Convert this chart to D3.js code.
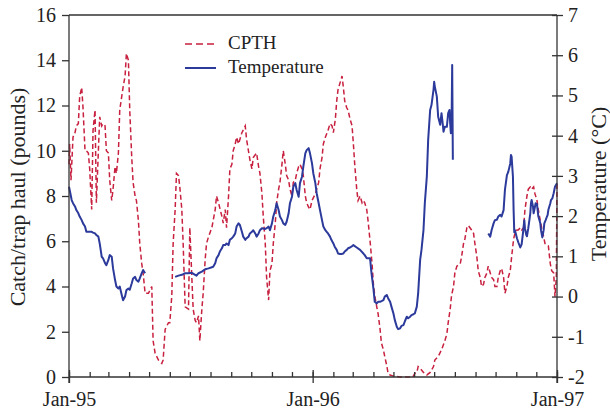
<!DOCTYPE html>
<html>
<head>
<meta charset="utf-8">
<script src="https://cdn.jsdelivr.net/npm/d3@7"></script>
<style>
  body { margin: 0; background: #fff; }
  svg { display: block; }
  svg text { font-family: "Liberation Serif", Tinos, "DejaVu Serif", "Noto Serif", "Times New Roman", serif; }
</style>
</head>
<body>
<svg id="chart" width="610" height="415"></svg>
<script>
// [days since 1 Jan 1995, catch per trap haul (pounds)]
const cpth = [
  [0,9.4],[1,10.3],[3,8.7],[6,10.6],[9,10.8],[11,11.1],[14,11.2],[16,12.4],[19,12.8],[21,11.9],
  [24,10.0],[26,10.0],[29,9.9],[31,9.2],[34,7.4],[36,10.9],[39,11.8],[41,7.7],[44,10.0],[46,11.5],
  [49,11.1],[51,11.2],[54,11.1],[56,10.0],[59,9.9],[61,8.7],[64,7.8],[66,8.3],[69,9.3],[71,9.0],
  [74,9.9],[76,11.8],[79,12.4],[81,12.8],[84,13.3],[86,14.3],[89,14.0],[91,11.8],[94,9.7],[96,8.6],
  [99,8.0],[101,7.8],[104,6.9],[106,5.9],[109,5.0],[111,4.6],[114,3.7],[119,3.7],[124,4.0],[126,1.6],
  [129,1.05],[134,0.75],[139,0.6],[141,0.75],[144,2.1],[149,2.4],[151,2.4],[154,3.6],[156,5.9],[159,7.4],
  [161,9.0],[164,8.9],[166,8.4],[169,7.4],[171,5.9],[174,3.1],[179,3.0],[181,6.6],[184,4.4],[186,3.0],
  [189,2.5],[191,2.4],[194,2.7],[196,1.6],[199,3.0],[201,3.7],[204,5.2],[206,5.9],[209,6.2],[214,6.6],
  [219,7.4],[221,8.0],[224,7.7],[229,7.1],[231,6.8],[234,7.4],[236,6.6],[239,8.0],[241,9.2],[244,9.4],
  [246,10.0],[249,10.3],[251,10.6],[254,10.3],[259,10.8],[264,11.1],[266,10.5],[271,9.6],[274,9.2],[276,9.7],
  [281,9.9],[284,9.3],[286,9.0],[289,8.1],[291,7.1],[294,5.9],[296,4.4],[299,3.4],[301,4.7],[304,5.0],
  [306,5.9],[309,6.8],[311,7.7],[314,8.3],[316,8.6],[319,9.4],[321,10.0],[324,9.4],[326,8.9],[329,8.7],
  [331,8.3],[334,8.0],[336,8.6],[339,8.7],[341,9.0],[344,9.3],[346,9.4],[349,9.2],[351,8.9],[354,8.0],
  [356,7.7],[359,7.5],[361,7.4],[364,7.8],[369,8.1],[374,8.6],[376,9.2],[379,9.7],[381,10.3],[384,10.6],
  [388,10.9],[391,11.2],[394,11.1],[396,10.8],[399,11.4],[401,12.2],[403,12.7],[406,13.0],[409,13.3],[411,12.8],
  [413,12.2],[416,11.9],[418,11.8],[421,11.4],[424,11.1],[426,10.3],[428,9.4],[431,8.3],[433,7.8],[436,8.0],
  [439,7.7],[441,7.8],[443,7.7],[446,7.4],[448,6.9],[451,6.0],[454,5.0],[456,4.1],[458,3.6],[461,3.1],
  [463,2.8],[466,2.1],[468,1.5],[471,1.2],[473,0.9],[476,0.5],[478,0.16],[481,0.09],[486,0.04],[496,0],
  [515,0],[518,0.16],[521,0.2],[523,0.46],[526,0.38],[531,0.2],[536,0.09],[541,0.2],[546,0.46],[548,0.75],
  [553,0.9],[558,1.2],[563,1.6],[566,1.9],[568,2.4],[571,3.0],[573,3.6],[576,4.0],[578,4.6],[581,4.9],
  [586,5.0],[588,5.3],[591,5.9],[593,6.1],[596,6.6],[598,6.7],[603,6.5],[606,6.35],[608,5.9],[611,5.3],
  [613,4.7],[616,4.4],[618,4.0],[621,4.1],[623,4.4],[626,4.6],[628,4.9],[631,4.6],[633,4.4],[636,4.3],
  [638,4.0],[641,4.0],[643,4.4],[646,4.7],[648,4.8],[651,4.4],[653,3.7],[656,4.0],[658,4.4],[661,4.7],
  [663,5.3],[666,6.1],[668,6.35],[671,6.5],[673,6.5],[676,6.6],[678,6.5],[681,6.6],[683,7.4],[686,8.0],
  [688,8.3],[691,8.4],[693,8.3],[696,8.4],[698,8.1],[701,7.8],[703,7.4],[706,6.9],[708,6.6],[711,6.2],
  [713,5.9],[718,5.8],[721,5.0],[723,4.7],[726,4.6],[728,3.55],[730,4.4],[731,8.6]
]

// [days since 1 Jan 1995, temperature (C)], null = no record
const temperature = [
  [0,2.73],[2,2.57],[4,2.40],[6,2.32],[9,2.24],[11,2.15],[14,2.07],[16,1.99],[19,1.90],[21,1.82],
  [24,1.74],[26,1.61],[29,1.61],[31,1.61],[34,1.61],[36,1.59],[39,1.57],[41,1.53],[44,1.49],[46,1.32],
  [49,0.99],[51,0.95],[54,0.83],[56,0.78],[59,0.91],[61,1.03],[64,0.99],[66,0.70],[69,0.41],[71,0.25],
  [74,0.20],[76,0.25],[79,0.04],[81,-0.09],[84,0.0],[86,0.16],[89,0.20],[91,0.17],[94,0.33],[96,0.45],
  [99,0.49],[101,0.41],[104,0.37],[106,0.45],[109,0.58],[111,0.66],[114,0.58],
  [130,null],
  [159,0.49],[164,0.52],[169,0.54],[174,0.58],[179,0.58],[184,0.59],[189,0.54],[191,0.52],[194,0.58],[199,0.62],
  [204,0.68],[209,0.70],[214,0.73],[216,0.74],[219,0.83],[221,0.95],[224,1.03],[226,1.12],[229,1.20],[231,1.28],
  [234,1.28],[236,1.32],[239,1.28],[241,1.41],[244,1.45],[246,1.49],[249,1.57],[251,1.74],[254,1.82],[256,1.78],
  [259,1.61],[261,1.49],[264,1.41],[266,1.45],[269,1.49],[271,1.57],[274,1.61],[276,1.65],[279,1.57],[281,1.49],
  [284,1.57],[286,1.65],[289,1.70],[294,1.68],[296,1.70],[299,1.74],[301,1.65],[304,1.82],[306,1.99],[309,2.15],
  [311,2.32],[314,2.15],[316,1.99],[319,1.90],[321,1.82],[324,1.78],[326,1.86],[329,2.07],[331,2.32],[334,2.48],
  [336,2.73],[339,2.82],[341,2.65],[344,2.48],[346,2.82],[349,2.98],[351,3.23],[354,3.56],[356,3.64],[359,3.69],
  [361,3.56],[364,3.31],[366,3.06],[369,2.82],[371,2.57],[374,2.32],[376,2.15],[379,1.90],[381,1.74],[384,1.65],
  [386,1.61],[388,1.57],[391,1.49],[393,1.41],[396,1.32],[398,1.24],[401,1.16],[403,1.07],[406,1.06],[408,1.06],
  [411,1.07],[413,1.12],[416,1.16],[418,1.20],[421,1.22],[423,1.24],[426,1.28],[431,1.22],[436,1.16],[441,1.07],
  [443,1.03],[446,0.95],[451,0.95],[453,0.6],[456,0.2],[458,-0.13],[461,-0.17],[463,-0.13],[466,-0.13],[471,-0.09],
  [473,0.0],[476,0.04],[478,-0.04],[481,-0.13],[483,-0.25],[486,-0.42],[488,-0.58],[491,-0.75],[493,-0.81],[496,-0.79],
  [498,-0.73],[501,-0.71],[503,-0.62],[506,-0.5],[508,-0.54],[511,-0.5],[513,-0.46],[516,-0.44],[518,-0.42],[521,-0.25],
  [523,0.08],[526,0.91],[528,1.16],[531,1.65],[533,2.32],[536,2.98],[538,3.89],[541,4.64],[543,4.76],[546,5.14],
  [547,5.34],[548,5.22],[551,4.97],[553,4.47],[556,4.27],[558,4.56],[560,4.27],[561,4.10],[563,4.22],[566,4.22],
  [568,4.56],[570,4.64],[571,4.31],[572,4.06],[573,4.2],[574,5.76],[575,3.4],
  [600,null],
  [628,1.57],[631,1.49],[633,1.65],[636,1.82],[638,1.90],[641,1.91],[643,1.99],[646,2.03],[648,1.99],[651,2.15],
  [653,2.65],[656,3.02],[658,3.10],[661,3.31],[662,3.52],[663,3.48],[665,2.98],[666,2.15],[667,1.6],[668,1.65],
  [671,1.45],[673,1.35],[676,1.22],[678,1.3],[680,1.57],[682,1.9],[683,1.7],[685,1.53],[686,1.5],[688,1.7],
  [691,2.07],[692,2.32],[693,2.4],[695,2.24],[696,2.07],[697,2.15],[699,2.32],[701,2.3],[702,2.15],[703,2.0],
  [706,1.82],[707,1.65],[709,1.47],[711,1.65],[712,1.82],[714,1.90],[716,1.99],[717,2.03],[718,2.15],[721,2.32],
  [722,2.40],[724,2.44],[726,2.57],[728,2.73],[731,2.82]
]

const leftTicks = [0, 2, 4, 6, 8, 10, 12, 14, 16]
const rightTicks = [-2, -1, 0, 1, 2, 3, 4, 5, 6, 7]
const yearLabels = ['Jan-95', 'Jan-96', 'Jan-97']
const seriesNames = ['CPTH', 'Temperature']
const leftTitle = 'Catch/trap haul (pounds)'
const rightTitle = 'Temperature (°C)'

const red = '#c8203f'
const blue = '#2b3a9b'
const axisColor = '#333'
const textColor = '#222'
const serif = '"Liberation Serif", Tinos, "DejaVu Serif", "Noto Serif", "Times New Roman", serif'

const width = 610
const height = 415
const margin = { top: 15, right: 53, bottom: 38, left: 69 }
const bottom = height - margin.bottom
const right = width - margin.right

const start = new Date(1995, 0, 1)
const end = new Date(1997, 0, 1)
const toDate = d => d3.timeDay.offset(start, d)

const svg = d3.select('#chart').attr('font-family', serif)

const x = d3.scaleTime().domain([start, end]).range([margin.left, right])
const yLeft = d3.scaleLinear().domain([0, 16]).range([bottom, margin.top])
const yRight = d3.scaleLinear().domain([-2, 7]).range([bottom, margin.top])

// series
const cpthLine = d3.line()
  .x(d => x(toDate(d[0])))
  .y(d => yLeft(d[1]))

const tempLine = d3.line()
  .defined(d => d[1] !== null)
  .x(d => x(toDate(d[0])))
  .y(d => yRight(d[1]))

svg.append('path')
  .datum(cpth)
  .attr('d', cpthLine)
  .attr('fill', 'none')
  .attr('stroke', red)
  .attr('stroke-width', 1.5)
  .attr('stroke-dasharray', '5,3')

svg.append('path')
  .datum(temperature)
  .attr('d', tempLine)
  .attr('fill', 'none')
  .attr('stroke', blue)
  .attr('stroke-width', 2)
  .attr('stroke-linejoin', 'round')

// frame
const frame = svg.append('g')
  .attr('stroke', axisColor)
  .attr('stroke-width', 1.3)
frame.append('line').attr('x1', margin.left).attr('x2', right).attr('y1', margin.top).attr('y2', margin.top)
frame.append('line').attr('x1', margin.left).attr('x2', right).attr('y1', bottom).attr('y2', bottom)
frame.append('line').attr('x1', margin.left).attr('x2', margin.left).attr('y1', margin.top).attr('y2', bottom + 6)
frame.append('line').attr('x1', right).attr('x2', right).attr('y1', margin.top).attr('y2', bottom + 6)

function styleAxis(g, size) {
  g.attr('font-family', serif)
  g.select('.domain').remove()
  g.selectAll('.tick line').attr('stroke', axisColor).attr('stroke-width', 1.3)
  g.selectAll('.tick text')
    .attr('fill', textColor)
    .attr('font-size', size)
}

// left axis
svg.append('g')
  .attr('transform', `translate(${margin.left},0)`)
  .call(d3.axisLeft(yLeft).tickValues(leftTicks).tickSize(7).tickPadding(6))
  .call(g => styleAxis(g, 20))

// right axis
svg.append('g')
  .attr('transform', `translate(${right},0)`)
  .call(d3.axisRight(yRight).tickValues(rightTicks).tickSize(6).tickPadding(5)
    .tickFormat(d => d < 0 ? '-' + Math.abs(d) : d))
  .call(g => styleAxis(g, 20))
  .call(g => g.selectAll('.tick line').attr('x1', -5))

// monthly minor ticks
svg.append('g')
  .attr('transform', `translate(0,${bottom})`)
  .call(d3.axisBottom(x).ticks(d3.timeMonth.every(1)).tickSize(-5).tickFormat(''))
  .call(g => styleAxis(g, 20))

// yearly ticks and labels
svg.append('g')
  .attr('transform', `translate(0,${bottom})`)
  .call(d3.axisBottom(x).ticks(d3.timeYear.every(1)).tickSize(6)
    .tickFormat((d, i) => yearLabels[i]))
  .call(g => styleAxis(g, 20))
  .call(g => g.selectAll('.tick line').attr('y1', -7))
  .call(g => g.selectAll('.tick text').attr('y', 29).attr('dy', 0))

// axis titles
svg.append('text')
  .attr('transform', 'translate(25,197) rotate(-90)')
  .attr('text-anchor', 'middle')
  .attr('fill', textColor)
  .attr('font-size', 22)
  .text(leftTitle)

svg.append('text')
  .attr('transform', 'translate(606,184) rotate(-90)')
  .attr('text-anchor', 'middle')
  .attr('fill', textColor)
  .attr('font-size', 22)
  .text(rightTitle)

// legend
const legend = svg.append('g')
const legendColors = [red, blue]
seriesNames.forEach((name, i) => {
  const yy = 44 + i * 24
  legend.append('line')
    .attr('x1', 185).attr('x2', 216)
    .attr('y1', yy).attr('y2', yy)
    .attr('stroke', legendColors[i])
    .attr('stroke-width', i === 0 ? 1.6 : 2)
    .attr('stroke-dasharray', i === 0 ? '7,4' : null)
  legend.append('text')
    .attr('x', 228)
    .attr('y', yy + 5)
    .attr('fill', textColor)
    .attr('font-size', 19)
    .text(name)
})
</script>
</body>
</html>
